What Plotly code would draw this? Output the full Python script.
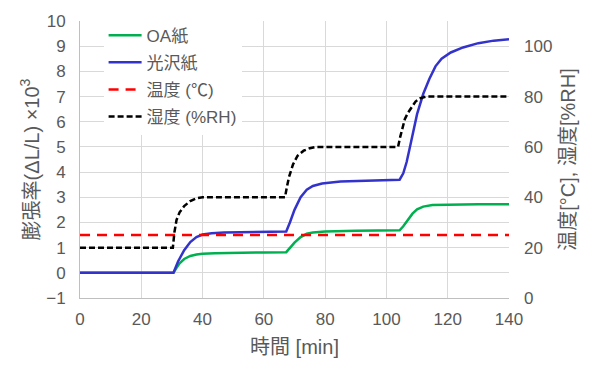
import plotly.graph_objects as go

# OA紙 (expansion ×10^3)
oa_t = [0, 30.5, 31.5, 32.5, 34, 36, 38, 40, 44, 50, 60, 67.3, 68.5, 70, 72, 74, 76, 80, 90, 104.3, 105.5, 107, 108.5, 110, 112, 115, 120, 130, 140]
oa_v = [0, 0, 0.2, 0.38, 0.55, 0.67, 0.73, 0.76, 0.78, 0.8, 0.81, 0.82, 0.98, 1.2, 1.42, 1.55, 1.6, 1.64, 1.67, 1.69, 1.85, 2.1, 2.35, 2.52, 2.63, 2.69, 2.71, 2.72, 2.72]

# 光沢紙
gl_t = [0, 30.5, 32, 34, 36, 38, 40, 43, 47, 55, 67.3, 68.5, 70, 72, 74, 76, 79, 85, 95, 104.3, 105.5, 106.6, 107.5, 108.7, 110, 112, 114, 116, 118, 121, 125, 130, 135, 140]
gl_v = [0, 0, 0.45, 0.9, 1.22, 1.42, 1.52, 1.57, 1.6, 1.62, 1.64, 2.0, 2.5, 3.0, 3.3, 3.45, 3.55, 3.63, 3.68, 3.7, 3.95, 4.4, 4.9, 5.6, 6.3, 7.1, 7.7, 8.2, 8.5, 8.75, 8.95, 9.12, 9.22, 9.28]

# 温度 (℃)
temp_t = [0, 140]
temp_v = [25, 25]

# 湿度 (%RH)
hum_t = [0, 30.3, 30.8, 31.5, 32.5, 34, 36, 38, 40, 50, 60, 66.9, 67.5, 68.2, 69.5, 71, 73, 75, 77, 80, 90, 100, 103.8, 104.5, 105.3, 106, 107, 108.3, 109.5, 111, 113, 115, 120, 130, 140]
hum_v = [20, 20, 26, 31, 34, 36.5, 38.5, 39.6, 40, 40, 40, 40, 44, 48, 53, 56.5, 58.5, 59.5, 60, 60, 60, 60, 60, 64, 68, 71, 73.5, 76, 78, 79.3, 80, 80, 80, 80, 80]

x_ticks = [0, 20, 40, 60, 80, 100, 120, 140]
y_ticks = list(range(-1, 11))
y2_ticks = [0, 20, 40, 60, 80, 100]

FONT = "Liberation Sans, Arial, Noto Sans CJK JP, sans-serif"
TXT = "#595959"
GRID = "#D9D9D9"
FS = 17

fig = go.Figure()
fig.add_trace(go.Scatter(x=oa_t, y=oa_v, name="OA紙", mode="lines", legendgroup="a",
                         line=dict(color="#00B050", width=2.5)))
fig.add_trace(go.Scatter(x=gl_t, y=gl_v, name="光沢紙", mode="lines", legendgroup="b",
                         line=dict(color="#3333CC", width=2.5)))
fig.add_trace(go.Scatter(x=temp_t, y=temp_v, name="温度 (℃)", mode="lines", yaxis="y2",
                         legendgroup="c",
                         line=dict(color="#FF0000", width=2.5, dash="10px,7px")))
fig.add_trace(go.Scatter(x=hum_t, y=hum_v, name="湿度 (%RH)", mode="lines", yaxis="y2",
                         legendgroup="d",
                         line=dict(color="#000000", width=2.5, dash="6px,3px")))

fig.update_layout(
    width=600, height=375,
    margin=dict(l=80, r=91, t=17, b=77),
    paper_bgcolor="white", plot_bgcolor="white",
    font=dict(family=FONT, size=FS, color=TXT),
    showlegend=True,
    legend=dict(x=0.055, y=1.012, xanchor="left", yanchor="top",
                bgcolor="white", font=dict(size=FS, color=TXT),
                itemwidth=33, tracegroupgap=2),
    xaxis=dict(range=[0, 140], tickvals=x_ticks, showgrid=True, gridcolor=GRID,
               gridwidth=1, zeroline=False, showline=True, linecolor="#BFBFBF",
               title=dict(text="時間 [min]", standoff=11), ticks="",
               ticklabelstandoff=6),
    yaxis=dict(range=[-1, 10], tickvals=y_ticks, showgrid=True, gridcolor=GRID,
               gridwidth=1, zeroline=False, showline=True, linecolor="#BFBFBF",
               title=dict(text="膨張率(ΔL/L) ×10<sup>3</sup>", standoff=1), ticks="",
               ticklabelstandoff=10),
    yaxis2=dict(range=[0, 110], tickvals=y2_ticks, overlaying="y", side="right",
                showgrid=False, zeroline=False, showline=False,
                title=dict(text="温度[°C], 湿度[%RH]", standoff=9), ticks="",
                ticklabelstandoff=14),
)

fig.write_html("out.html")
